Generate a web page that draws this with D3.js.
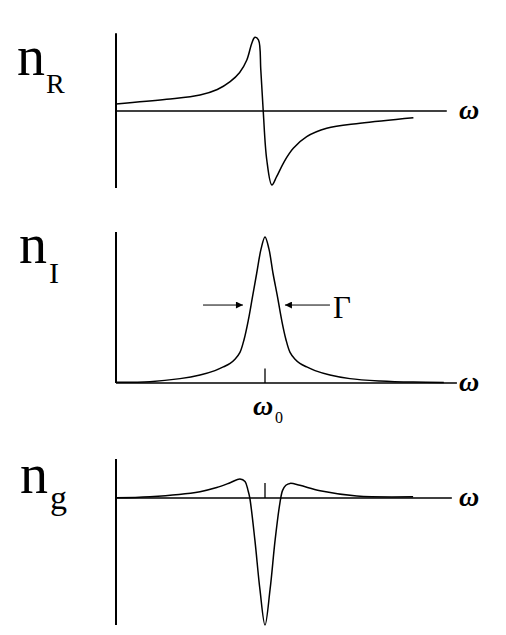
<!DOCTYPE html>
<html>
<head>
<meta charset="utf-8">
<script src="https://cdn.jsdelivr.net/npm/d3@7"></script>
<style>
  html, body { margin: 0; padding: 0; background: #fff; }
  svg { display: block; }
</style>
</head>
<body>
<script>
// ---- data (omega in arbitrary units, omega0 = 50) ----
const omega0 = 50;

const nR_omega  = [0, 17.0, 28.2, 34.0, 38.3, 41.5, 43.9, 45.6, 46.6, 47.8, 48.6, 49.4, 50.6, 52.3, 53.9, 56.5, 59.5, 64.0, 70.7, 81.9, 99.8];
const nR_values = [0.095, 0.158, 0.216, 0.29, 0.396, 0.52, 0.689, 0.92, 0.996, 0.96, 0.55, 0.004, -0.662, -1.0, -0.888, -0.68, -0.504, -0.347, -0.234, -0.166, -0.091];

const nI_omega  = [0, 11.4, 21.5, 28.2, 33.2, 36.0, 38.3, 40.0, 41.6, 43.0, 44.4, 45.8, 47.2, 48.7, 50, 51.3, 52.7, 54.2, 55.6, 57.0, 58.4, 60.0, 61.7, 64.0, 66.8, 71.8, 78.5, 88.6, 99.7, 110];
const nI_values = [0.005, 0.009, 0.03, 0.055, 0.085, 0.11, 0.135, 0.165, 0.21, 0.30, 0.43, 0.59, 0.75, 0.92, 1.0, 0.92, 0.75, 0.59, 0.43, 0.30, 0.21, 0.165, 0.135, 0.11, 0.085, 0.055, 0.03, 0.014, 0.006, 0.004];

const ng_omega  = [0, 11.4, 28.2, 33.8, 38.3, 41.6, 43.3, 44.3, 44.9, 46.6, 48.3, 50, 51.7, 53.4, 55.0, 55.9, 57.0, 58.4, 61.7, 68.5, 80.8, 99.7];
const ng_values = [0.002, 0.01, 0.05, 0.082, 0.12, 0.15, 0.13, 0.06, 0.0, -0.33, -0.72, -1.0, -0.72, -0.33, -0.04, 0.06, 0.10, 0.115, 0.10, 0.057, 0.016, 0.01];

const panelLabels    = ["n", "n", "n"];
const panelSubLabels = ["R", "I", "g"];
const axisLabel      = "ω";
const tickLabel      = "ω";
const tickSub        = "0";
const widthLabel     = "Γ";
const gammaArrowY    = 0.534;   // in n_I units (half maximum marker)
const gammaArrowL    = [29.2, 42.6];
const gammaArrowR    = [71.8, 56.7];

// ---- layout ----
const W = 506, H = 635;
const SERIF = "'Liberation Serif', 'Times New Roman', serif";
const svg = d3.select("body").append("svg").attr("width", W).attr("height", H);

const x = d3.scaleLinear().domain([0, 100]).range([116, 414]);

const panels = [
  { om: nR_omega, val: nR_values, y: d3.scaleLinear().domain([-1, 1]).range([185, 37]),
    yAxis: [-1.04, 1.05], xEnd: 111, tick: null,
    lab: { x: 17, y: 75, sx: 46, sy: 93, size: 56, ssize: 28 } },
  { om: nI_omega, val: nI_values, y: d3.scaleLinear().domain([0, 1]).range([383, 237]),
    yAxis: [0, 1.034], xEnd: 114.4, tick: 0.1,
    lab: { x: 19, y: 263, sx: 49, sy: 283, size: 56, ssize: 30 } },
  { om: ng_omega, val: ng_values, y: d3.scaleLinear().domain([-1, 0]).range([625, 498]),
    yAxis: [-1.0, 0.307], xEnd: 112.7, tick: 0.118,
    lab: { x: 20, y: 493, sx: 50, sy: 509, size: 56, ssize: 34 } }
];

const line = d3.line().curve(d3.curveCatmullRom.alpha(0.5));

panels.forEach((p, i) => {
  const g = svg.append("g");
  g.append("line")
    .attr("x1", x(0)).attr("x2", x(0))
    .attr("y1", p.y(p.yAxis[0])).attr("y2", p.y(p.yAxis[1]))
    .attr("stroke", "#000").attr("stroke-width", 2);
  g.append("line")
    .attr("x1", x(0)).attr("x2", x(p.xEnd))
    .attr("y1", p.y(0)).attr("y2", p.y(0))
    .attr("stroke", "#000").attr("stroke-width", 1.6);
  if (p.tick !== null) {
    g.append("line")
      .attr("x1", x(omega0)).attr("x2", x(omega0))
      .attr("y1", p.y(0)).attr("y2", p.y(p.tick))
      .attr("stroke", "#000").attr("stroke-width", 1.3);
  }
  const pts = p.om.map((o, k) => [x(o), p.y(p.val[k])]);
  g.append("path").attr("d", line(pts))
    .attr("fill", "none").attr("stroke", "#000").attr("stroke-width", 1.5)
    .attr("stroke-linejoin", "round");
  g.append("text").attr("x", 459).attr("y", p.y(0) + 8)
    .attr("font-family", SERIF)
    .attr("font-size", 28).attr("font-style", "italic").attr("font-weight", "bold")
    .attr("fill", "#000").text(axisLabel);
  g.append("text").attr("x", p.lab.x).attr("y", p.lab.y)
    .attr("font-family", SERIF).attr("fill", "#000")
    .attr("font-size", p.lab.size).text(panelLabels[i]);
  g.append("text").attr("x", p.lab.sx).attr("y", p.lab.sy)
    .attr("font-family", SERIF).attr("fill", "#000")
    .attr("font-size", p.lab.ssize).text(panelSubLabels[i]);
});

const pI = panels[1];
svg.append("text").attr("x", x(omega0) - 12).attr("y", 415)
  .attr("font-family", SERIF)
  .attr("font-size", 28).attr("font-style", "italic").attr("font-weight", "bold")
  .attr("fill", "#000").text(tickLabel);
svg.append("text").attr("x", x(omega0) + 10).attr("y", 423)
  .attr("font-family", SERIF).attr("fill", "#000")
  .attr("font-size", 16).text(tickSub);

const defs = svg.append("defs");
defs.append("marker").attr("id", "ah").attr("viewBox", "0 0 10 10")
  .attr("refX", 10).attr("refY", 5).attr("markerWidth", 9).attr("markerHeight", 7)
  .attr("markerUnits", "userSpaceOnUse").attr("orient", "auto")
  .append("path").attr("d", "M0,0 L10,5 L0,10 Z").attr("fill", "#000");

[gammaArrowL, gammaArrowR].forEach(a => {
  svg.append("line")
    .attr("x1", x(a[0])).attr("x2", x(a[1]))
    .attr("y1", pI.y(gammaArrowY)).attr("y2", pI.y(gammaArrowY))
    .attr("stroke", "#000").attr("stroke-width", 1)
    .attr("marker-end", "url(#ah)");
});
svg.append("text").attr("x", 333).attr("y", 318)
  .attr("font-family", SERIF).attr("fill", "#000")
  .attr("font-size", 31).text(widthLabel);
</script>
</body>
</html>
